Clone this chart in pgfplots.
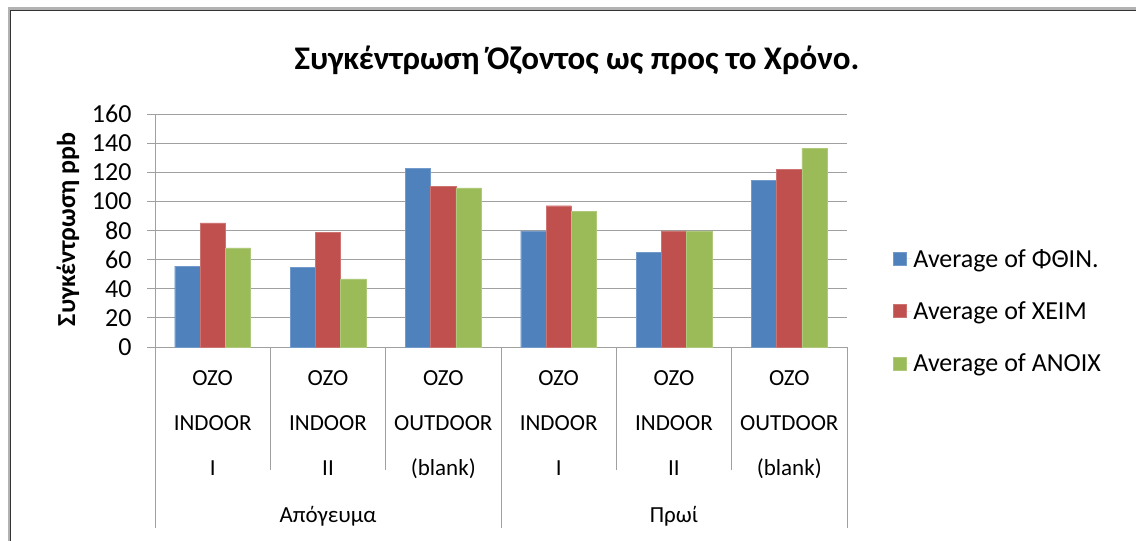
\documentclass[border=0pt]{standalone}
\usepackage{pgfplots}
\pgfplotsset{compat=1.18}
\usepackage{fontspec}
\setmainfont{Carlito}
\definecolor{cblue}{HTML}{4F81BD}
\definecolor{cred}{HTML}{C0504D}
\definecolor{cgreen}{HTML}{9BBB59}
\definecolor{gridgray}{HTML}{A0A0A0}
\begin{document}
\begin{tikzpicture}[x=1pt,y=1pt]
\useasboundingbox (0,0) rectangle (1136,541);
\begin{scope}
\clip (0,0) rectangle (1136,541);
\draw[gray!60, line width=3pt] (9,-20) -- (9,532) -- (1160,532);
\draw[black!80, line width=0.8pt] (10.5,-20) -- (10.5,530.5) -- (1160,530.5);
\end{scope}
\node[font=\fontsize{33}{36}\selectfont\bfseries] at (577,481) {Συγκέντρωση Όζοντος ως προς το Χρόνο.};
\begin{axis}[
  at={(155pt,194pt)}, anchor=south west,
  scale only axis, width=692pt, height=233pt,
  xmin=-0.5, xmax=5.5, ymin=0, ymax=160,
  ytick={0,20,...,160},
  xtick={0,...,5},
  xticklabels={{OZO\\INDOOR\\I},{OZO\\INDOOR\\II},{OZO\\OUTDOOR\\(blank)},{OZO\\INDOOR\\I},{OZO\\INDOOR\\II},{OZO\\OUTDOOR\\(blank)}},
  xticklabel style={align=center, font=\fontsize{23}{45}\selectfont, anchor=north, yshift=-12.5pt},
  x tick style={draw=none},
  ymajorgrids, grid style={gridgray, line width=0.9pt},
  axis x line*=bottom, axis y line*=left,
  axis line style={gridgray, line width=0.9pt},
  every outer x axis line/.append style={-},
  every outer y axis line/.append style={-},
  y tick style={gridgray, line width=0.9pt},
  major tick length=8pt, tick align=outside,
  /pgf/number format/assume math mode=true,
  yticklabel style={font=\fontsize{26}{30}\selectfont, anchor=east, xshift=-12pt},
  ylabel={Συγκέντρωση ppb},
  ylabel style={font=\fontsize{26}{28}\selectfont\bfseries, at={(axis description cs:-0.126,0.505)}, anchor=center},
  ybar=0pt, bar width=25.3pt,
  legend style={draw=none, fill=none, at={(axis description cs:1.0665,0.43)}, anchor=north west, inner sep=0pt, row sep=29pt, font=\fontsize{26}{29}\selectfont},
  legend cell align=left,
  legend image code/.code={\fill[#1] (0pt,-6.5pt) rectangle (13pt,6.5pt); \path[draw=none] (0pt,0pt) -- (18pt,0pt);},
  clip=false,
]
\addplot[fill=cblue, draw=cblue!80!white] coordinates {(0,55.5) (1,54.5) (2,122.9) (3,79.8) (4,64.9) (5,114.4)};
\addplot[fill=cred, draw=cred!80!white] coordinates {(0,85.3) (1,78.6) (2,110.2) (3,97.0) (4,79.8) (5,121.9)};
\addplot[fill=cgreen, draw=cgreen!80!white] coordinates {(0,68.1) (1,46.8) (2,109.3) (3,93.1) (4,79.8) (5,136.4)};
\legend{Average of ΦΘΙΝ.,Average of ΧΕΙΜ,Average of ΑΝΟΙΧ}
\pgfplotsinvokeforeach{0.5,1.5,3.5,4.5}{
  \draw[gridgray, line width=0.9pt] (axis cs:#1,0) -- ([yshift=-123pt]axis cs:#1,0);
}
\pgfplotsinvokeforeach{-0.5,2.5,5.5}{
  \draw[gridgray, line width=0.9pt] (axis cs:#1,0) -- ([yshift=-181pt]axis cs:#1,0);
}
\node[font=\fontsize{23}{26}\selectfont] at ([yshift=-169pt]axis cs:1,0) {Απόγευμα};
\node[font=\fontsize{23}{26}\selectfont] at ([yshift=-169pt]axis cs:4,0) {Πρωί};
\end{axis}
\end{tikzpicture}
\end{document}
